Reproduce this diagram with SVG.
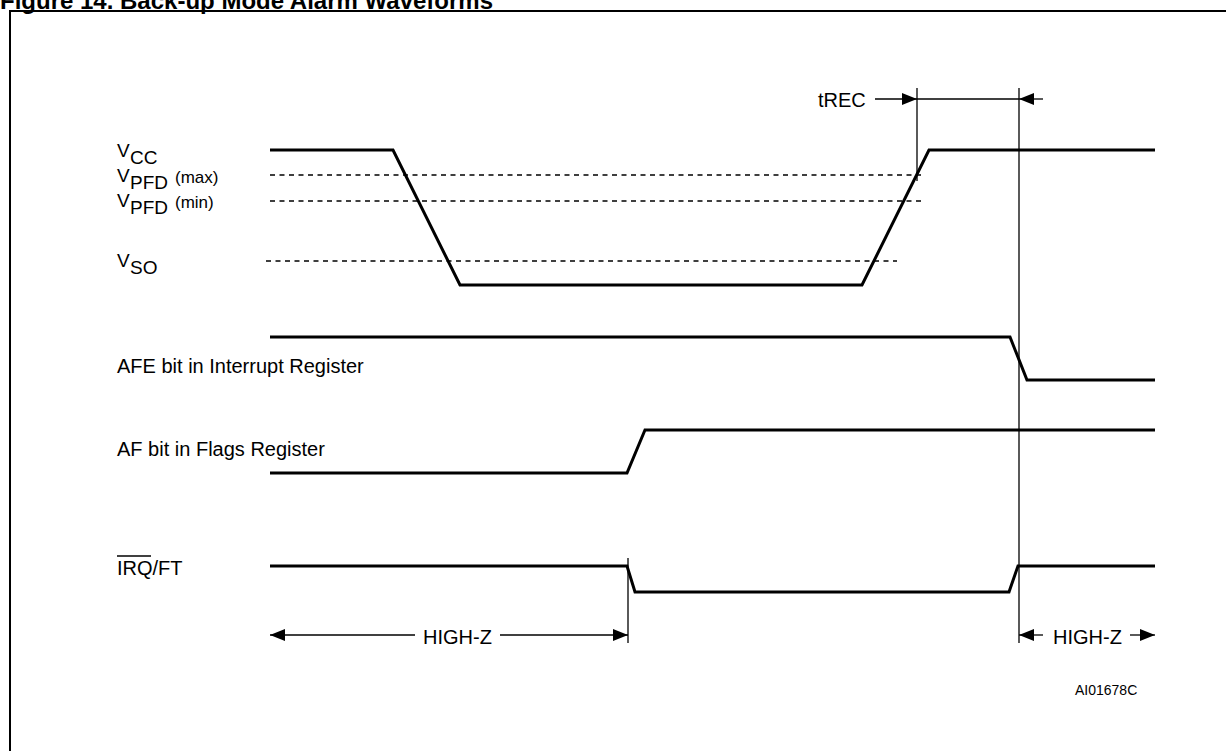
<svg xmlns="http://www.w3.org/2000/svg" width="1226" height="751" viewBox="0 0 1226 751">
<style>
text{font-family:"Liberation Sans",Arial,sans-serif;fill:#000}
.lbl{font-size:20px}
.v{font-size:19px}
.sm{font-size:17px}
.wave{fill:none;stroke:#000;stroke-width:3;stroke-linejoin:miter}
.dash{fill:none;stroke:#000;stroke-width:1.3;stroke-dasharray:5 4.5}
.thin{fill:none;stroke:#000;stroke-width:1.3}
</style>
<defs>
<marker id="ah" markerWidth="16" markerHeight="12" refX="15" refY="6" orient="auto" markerUnits="userSpaceOnUse">
<path d="M0,0 L15,6 L0,12 Z" fill="#000"/>
</marker>
</defs>
<rect width="1226" height="751" fill="#fff"/>
<text x="0" y="9" style="font-size:24px;font-weight:bold">Figure 14. Back-up Mode Alarm Waveforms</text>
<rect x="10" y="11" width="1240" height="780" fill="none" stroke="#000" stroke-width="2"/>

<g id="vcc">
<text class="v" x="117" y="157">V</text><text class="v" x="130" y="164">CC</text>
<polyline class="wave" points="270,150 393,150 460,285 862,285 929,150 1155,150"/>
</g>
<g id="vpfd-max">
<text class="v" x="117" y="182">V</text><text class="v" x="130" y="189">PFD</text><text class="sm" x="175" y="183">(max)</text>
<line class="dash" x1="270" y1="175" x2="925" y2="175"/>
</g>
<g id="vpfd-min">
<text class="v" x="117" y="207">V</text><text class="v" x="130" y="214">PFD</text><text class="sm" x="175" y="208">(min)</text>
<line class="dash" x1="270" y1="201" x2="925" y2="201"/>
</g>
<g id="vso">
<text class="v" x="117" y="267">V</text><text class="v" x="130" y="274">SO</text>
<line class="dash" x1="266" y1="261" x2="897" y2="261"/>
</g>
<g id="afe">
<text class="lbl" x="117" y="373">AFE bit in Interrupt Register</text>
<polyline class="wave" points="270,337 1010,337 1027,380 1155,380"/>
</g>
<g id="af">
<text class="lbl" x="117" y="456">AF bit in Flags Register</text>
<polyline class="wave" points="270,473 627,473 645,430 1155,430"/>
</g>
<g id="irq">
<text class="lbl" x="117" y="575">IRQ/FT</text>
<line x1="117" y1="556" x2="151" y2="556" stroke="#000" stroke-width="1.5"/>
<polyline class="wave" points="270,566 627,566 635,592 1009,592 1018,566 1155,566"/>
</g>
<g id="ref">
<text x="1075" y="695" style="font-size:14px">AI01678C</text>
</g>

<g id="connectors">
<line class="thin" x1="917" y1="88" x2="917" y2="181"/>
<line class="thin" x1="1019" y1="88" x2="1019" y2="643"/>
<line class="thin" x1="917" y1="99" x2="1019" y2="99"/>
<line class="thin" x1="875" y1="99" x2="917" y2="99" marker-end="url(#ah)"/>
<line class="thin" x1="1043" y1="99" x2="1019" y2="99" marker-end="url(#ah)"/>
<text class="lbl" x="818" y="107">tREC</text>

<line class="thin" x1="628" y1="558" x2="628" y2="643"/>
<line class="thin" x1="415" y1="635" x2="270" y2="635" marker-end="url(#ah)"/>
<line class="thin" x1="500" y1="635" x2="628" y2="635" marker-end="url(#ah)"/>
<text class="lbl" x="423" y="644">HIGH-Z</text>

<line class="thin" x1="1043" y1="635" x2="1019" y2="635" marker-end="url(#ah)"/>
<line class="thin" x1="1130" y1="635" x2="1155" y2="635" marker-end="url(#ah)"/>
<text class="lbl" x="1053" y="644">HIGH-Z</text>
</g>
</svg>
